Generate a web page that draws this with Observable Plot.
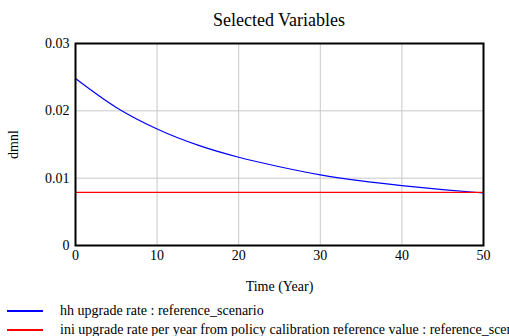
<!DOCTYPE html>
<html>
<head>
<meta charset="utf-8">
<script src="https://cdn.jsdelivr.net/npm/d3@7"></script>
<script src="https://cdn.jsdelivr.net/npm/@observablehq/plot@0.6"></script>
<style>
  html, body { margin: 0; padding: 0; background: #fff; overflow: hidden; width: 509px; height: 336px; }
  #wrap { position: relative; width: 509px; height: 336px; font-family: "Liberation Serif", "Times New Roman", serif; color: #000; }
  #title { position: absolute; left: 75px; width: 408px; top: 0; height: 40px; line-height: 40px; text-align: center; font-size: 18px; }
  #chart { position: absolute; left: 0; top: 36px; }
  .legend-row { position: absolute; left: 0; height: 19px; white-space: nowrap; font-size: 14px; line-height: 19px; }
  .legend-row .swatch { position: absolute; left: 7px; top: 9px; width: 36px; height: 2px; }
  .legend-row .label { position: absolute; left: 60px; top: 0; }
</style>
</head>
<body>
<div id="wrap">
  <div id="title">Selected Variables</div>
  <div id="chart"></div>
  <div id="legend"></div>
</div>
<script>
// Simulation output, sampled every 5 years
const years = [0, 5, 10, 15, 20, 25, 30, 35, 40, 45, 50];
const hhUpgradeRate = [0.0248, 0.0205, 0.0173, 0.0149, 0.0131, 0.0117, 0.0105, 0.0096, 0.0089, 0.0083, 0.0078];
const iniUpgradeRate = [0.0079, 0.0079, 0.0079, 0.0079, 0.0079, 0.0079, 0.0079, 0.0079, 0.0079, 0.0079, 0.0079];

const seriesNames = [
  "hh upgrade rate : reference_scenario",
  "ini upgrade rate per year from policy calibration reference value : reference_scenario"
];
const seriesColors = ["#0000ff", "#ff0000"];

const xTicks = [0, 10, 20, 30, 40, 50];
const yTicks = [0, 0.01, 0.02, 0.03];

const rows = [];
years.forEach((t, i) => {
  rows.push({time: t, value: hhUpgradeRate[i], series: seriesNames[0]});
  rows.push({time: t, value: iniUpgradeRate[i], series: seriesNames[1]});
});

const chart = Plot.plot({
  width: 509,
  height: 262,
  marginLeft: 75,
  marginRight: 26,
  marginTop: 7,
  marginBottom: 53,
  style: {fontFamily: "'Liberation Serif', 'Times New Roman', serif", fontSize: "14px", color: "#000", background: "#fff"},
  x: {domain: [0, 50]},
  y: {domain: [0, 0.03]},
  color: {domain: seriesNames, range: seriesColors},
  marks: [
    Plot.gridX(xTicks.slice(1, -1), {stroke: "#c8c8c8", strokeOpacity: 1, strokeWidth: 1}),
    Plot.gridY(yTicks.slice(1, -1), {stroke: "#c8c8c8", strokeOpacity: 1, strokeWidth: 1}),
    Plot.axisX(xTicks, {tickSize: 0, tickPadding: 5, label: "Time (Year)", labelAnchor: "center", labelArrow: "none", labelOffset: 45}),
    Plot.axisY(yTicks, {tickSize: 0, tickPadding: 6, tickFormat: d => d === 0 ? "0" : d.toFixed(2), label: "dmnl", labelAnchor: "center", labelArrow: "none", labelOffset: 67}),
    Plot.lineY(rows, {x: "time", y: "value", z: "series", stroke: "series", strokeWidth: 1.2, curve: "monotone-x"}),
    Plot.frame({stroke: "#000", strokeWidth: 2})
  ]
});
document.getElementById("chart").appendChild(chart);

// Legend below the plot
const legend = document.getElementById("legend");
seriesNames.forEach((name, i) => {
  const row = document.createElement("div");
  row.className = "legend-row";
  row.style.top = (301 + i * 19) + "px";
  const sw = document.createElement("div");
  sw.className = "swatch";
  sw.style.background = seriesColors[i];
  const lab = document.createElement("div");
  lab.className = "label";
  lab.textContent = name;
  row.appendChild(sw);
  row.appendChild(lab);
  legend.appendChild(row);
});
</script>
</body>
</html>
